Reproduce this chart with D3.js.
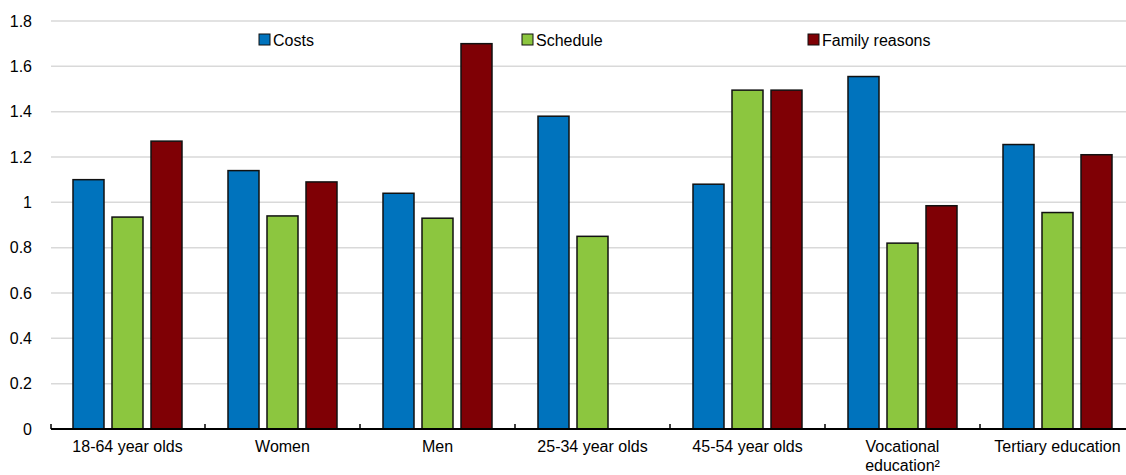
<!DOCTYPE html>
<html>
<head>
<meta charset="utf-8">
<script src="https://cdn.jsdelivr.net/npm/d3@7/dist/d3.min.js"></script>
<style>
  html, body { margin: 0; padding: 0; background: #fff; }
  svg text { font-family: "Liberation Sans", Arial, sans-serif; }
</style>
</head>
<body>
<svg id="chart" width="1126" height="475"></svg>
<script>
const categories = ["18-64 year olds", "Women", "Men", "25-34 year olds", "45-54 year olds", "Vocational education²", "Tertiary education"];
const seriesNames = ["Costs", "Schedule", "Family reasons"];
const costs = [1.10, 1.14, 1.04, 1.38, 1.08, 1.555, 1.255];
const schedule = [0.935, 0.94, 0.93, 0.85, 1.495, 0.82, 0.955];
const familyReasons = [1.27, 1.09, 1.70, null, 1.495, 0.985, 1.21];
const yTicks = [0, 0.2, 0.4, 0.6, 0.8, 1, 1.2, 1.4, 1.6, 1.8];
const colors = ["#0073BD", "#8CC63F", "#7F0005"];

const seriesValues = [costs, schedule, familyReasons];
const svg = d3.select("#chart");
const plotLeft = 50, plotRight = 1135, plotTop = 21, plotBottom = 429;

const x0 = d3.scaleBand().domain(categories).range([plotLeft, plotRight])
  .paddingInner(46 / 155).paddingOuter(23 / 155);
const x1 = d3.scaleBand().domain(seriesNames).range([0, x0.bandwidth()])
  .paddingInner(8 / 39).paddingOuter(0);
const y = d3.scaleLinear().domain([0, 1.8]).range([plotBottom, plotTop]);

// gridlines
svg.append("g").selectAll("line").data(yTicks.filter(d => d > 0)).join("line")
  .attr("x1", plotLeft + 1).attr("x2", 1126)
  .attr("y1", d => y(d)).attr("y2", d => y(d))
  .attr("stroke", "#d9d9d9").attr("stroke-width", 1.5);

// y tick labels
svg.append("g").selectAll("text").data(yTicks).join("text")
  .attr("x", 32).attr("y", d => y(d)).attr("dy", "0.35em")
  .attr("text-anchor", "end").attr("font-size", 16).attr("fill", "#000")
  .text(d => d3.format("")(d));

// bars
const groups = svg.append("g").selectAll("g").data(categories).join("g")
  .attr("transform", d => `translate(${x0(d)},0)`);
groups.selectAll("rect").data((c, i) => seriesNames.map((s, j) => ({ s, j, v: seriesValues[j][i] })).filter(d => d.v != null))
  .join("rect")
  .attr("x", d => x1(d.s)).attr("width", x1.bandwidth())
  .attr("y", d => y(d.v)).attr("height", d => y(0) - y(d.v))
  .attr("fill", d => colors[d.j]).attr("stroke", "#111").attr("stroke-width", 1.5);

// x axis baseline and ticks
svg.append("line").attr("x1", plotLeft + 1).attr("x2", 1126)
  .attr("y1", plotBottom).attr("y2", plotBottom).attr("stroke", "#000").attr("stroke-width", 2);
const boundaries = [plotLeft + 1].concat(categories.slice(1).map(c => x0(c) - x0.step() * x0.paddingInner() / 2));
svg.append("g").selectAll("line").data(boundaries).join("line")
  .attr("x1", d => d).attr("x2", d => d)
  .attr("y1", plotBottom).attr("y2", plotBottom - 5)
  .attr("stroke", "#000").attr("stroke-width", 1.5);

// x labels
const xl = svg.append("g").selectAll("text").data(categories).join("text")
  .attr("x", d => x0(d) + x0.bandwidth() / 2).attr("y", 452)
  .attr("text-anchor", "middle").attr("font-size", 16).attr("fill", "#000");
xl.each(function (d) {
  const t = d3.select(this);
  if (d === "Vocational education²") {
    t.append("tspan").attr("x", x0(d) + x0.bandwidth() / 2).text("Vocational");
    t.append("tspan").attr("x", x0(d) + x0.bandwidth() / 2).attr("dy", 19).text("education²");
  } else {
    t.text(d);
  }
});

// legend
const legendX = [259, 522, 808];
const lg = svg.append("g").selectAll("g").data(seriesNames).join("g")
  .attr("transform", (d, i) => `translate(${legendX[i]},34)`);
lg.append("rect").attr("width", 11).attr("height", 11)
  .attr("fill", (d, i) => colors[i]).attr("stroke", "#111").attr("stroke-width", 1);
lg.append("text").attr("x", 14).attr("y", 6).attr("dy", "0.35em")
  .attr("font-size", 16).attr("fill", "#000").text(d => d);
</script>
</body>
</html>
